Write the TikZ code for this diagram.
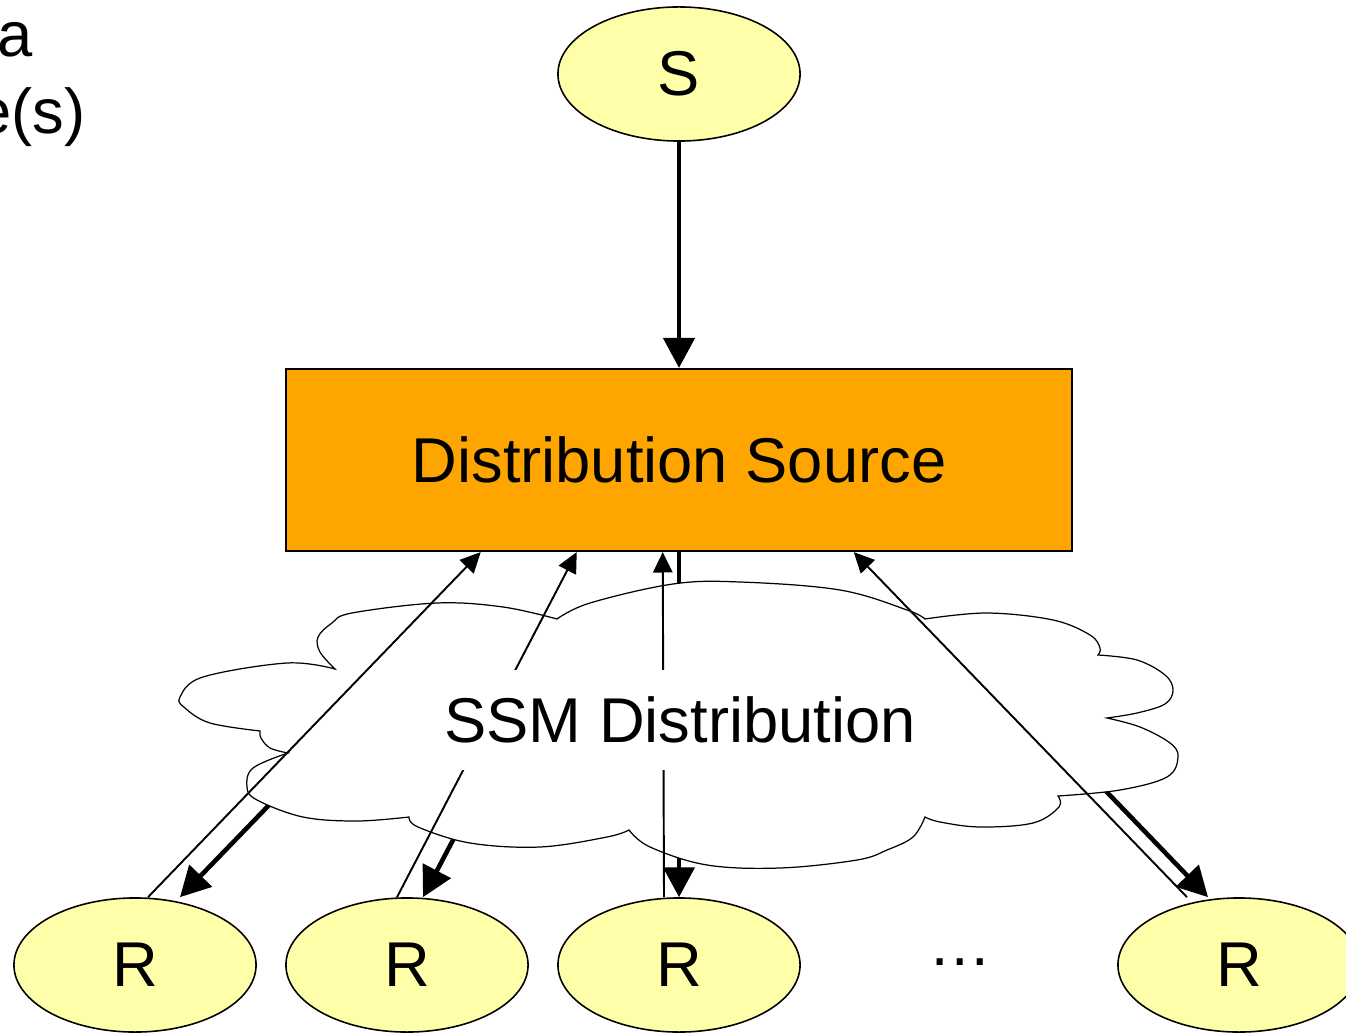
\documentclass[tikz,border=0pt]{standalone}
\usepackage{fontspec}
\setmainfont{Liberation Sans}
\usetikzlibrary{arrows.meta,shapes.geometric,calc}
\definecolor{nodeyellow}{RGB}{255,255,170}
\definecolor{srcorange}{RGB}{255,165,0}
\begin{document}
\begin{tikzpicture}[x=0.01cm,y=-0.01cm,
  font=\fontsize{18}{21}\selectfont,
  ell/.style={ellipse, draw, line width=0.45pt, fill=nodeyellow,
    minimum width=2.42cm, minimum height=1.34cm, inner sep=0pt},
  srcbox/.style={rectangle, draw, line width=0.6pt, fill=srcorange,
    minimum width=7.86cm, minimum height=1.82cm, inner sep=0pt},
  thickarr/.style={line width=1.3pt, -{Triangle[length=8.5pt,width=8.8pt]}},
  thinarr/.style={line width=0.55pt, -{Triangle[length=5.8pt,width=5.5pt]}},
  cloudst/.style={draw, fill=white, line width=0.35pt},
  lbl/.style={fill=white, inner xsep=3pt, inner ysep=7.5pt},
  plain/.style={inner sep=0pt}]
\useasboundingbox (0,0) rectangle (1346,1034);

% nodes
\node[ell] (s) at (679,74) {S};
\node[srcbox] (src) at (679,460) {Distribution Source};
\node[ell] (r1) at (135,965) {R};
\node[ell] (r2) at (407,965) {R};
\node[ell] (r3) at (679,965) {R};
\node[ell] (r4) at (1239,965) {R};
\node[plain, anchor=base] (dots) at (960,965) {…};
\node[plain, anchor=base east] (ta) at (33,57) {a};
\node[plain, anchor=base east] (tb) at (86,134) {e(s)};

% hidden starts of the thick arrows (under the cloud)
\coordinate (c1) at (300,773);
\coordinate (c2) at (474,800);
\coordinate (c4) at (1076,760);

% thick arrows
\draw[thickarr] (s) -- (src);
\draw[thickarr] (src.south) -- (r3.north);
\draw[thickarr] (c1) -- ($(r1.north)+(45,0)$);
\draw[thickarr] (c2) -- ($(r2.north)+(16,0)$);
\draw[thickarr] (c4) -- ($(r4.north)+(-31,0)$);

% cloud
\draw[cloudst]
  plot[smooth, tension=0.6] coordinates {(335,669) (320,652) (318,637) (332,623) (352,613) (437,603) (503,607) (557,619)}
  -- plot[smooth, tension=0.6] coordinates {(557,619) (590,603) (673,584) (740,582) (840,590) (907,610) (925,619)}
  -- plot[smooth, tension=0.6] coordinates {(925,619) (987,613) (1053,620) (1090,635) (1100,648) (1098,655)}
  -- plot[smooth, tension=0.6] coordinates {(1098,655) (1137,660) (1165,675) (1173,690) (1165,704) (1137,713) (1107,718)}
  -- plot[smooth, tension=0.6] coordinates {(1107,718) (1140,727) (1170,743) (1178,757) (1167,777) (1120,790) (1058,796)}
  -- plot[smooth, tension=0.6] coordinates {(1058,796) (1059,807) (1033,823) (980,827) (940,822) (925,817)}
  -- plot[smooth, tension=0.6] coordinates {(925,817) (913,837) (887,850) (857,860) (780,868) (707,865) (650,847) (629,830)}
  -- plot[smooth, tension=0.6] coordinates {(629,830) (607,837) (540,847) (470,843) (418,827) (409,817)}
  -- plot[smooth, tension=0.6] coordinates {(409,817) (357,821) (303,817) (257,800) (247,787) (253,768) (288,753)}
  -- plot[smooth, tension=0.6] coordinates {(288,753) (270,748) (261,738) (260,731)}
  -- plot[smooth, tension=0.6] coordinates {(260,731) (210,723) (185,708) (180,697) (203,677) (287,663) (335,669)}
  -- cycle;

% thin arrows
\draw[thinarr] ($(r1.north)+(13,0)$) -- ($(src.south west)+(196,0)$);
\draw[thinarr] ($(r2.north)+(-10,0)$) -- ($(src.south west)+(292,0)$);
\draw[thinarr] ($(r3.north)+(-15,0)$) -- ($(src.south west)+(378,0)$);
\draw[thinarr] ($(r4.north)+(-52,0)$) -- ($(src.south west)+(569,0)$);

% cloud label
\node[lbl] (ssm) at (680,720) {SSM Distribution};
\end{tikzpicture}
\end{document}
